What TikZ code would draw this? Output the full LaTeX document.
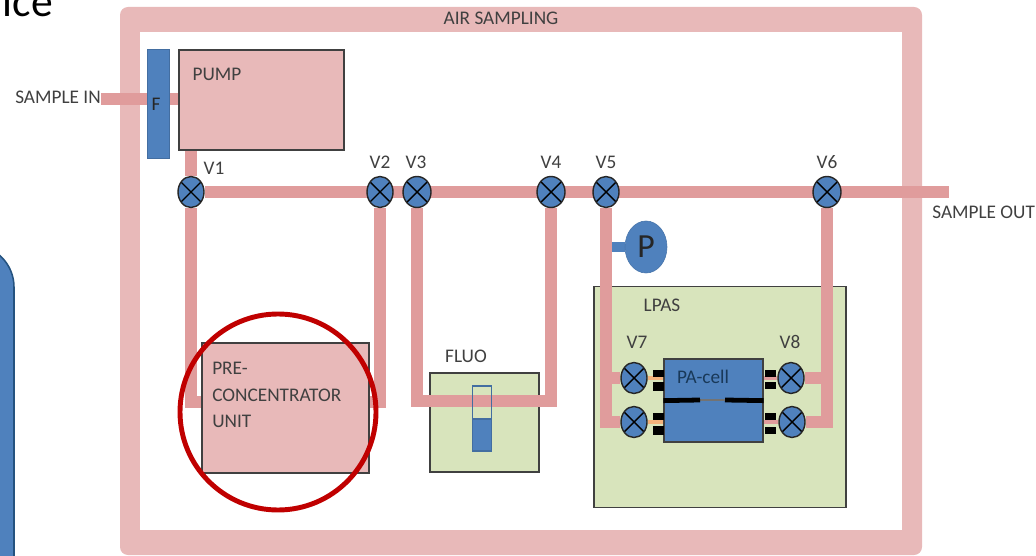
\documentclass[tikz,border=0pt]{standalone}
\usepackage{fontspec}
\setmainfont{Carlito}
\usetikzlibrary{arrows.meta,positioning,backgrounds,shapes.geometric}
\definecolor{pinkfill}{HTML}{E8B9B9}
\definecolor{pipecol}{HTML}{E09C9C}
\definecolor{greenfill}{HTML}{D8E4BC}
\definecolor{bluefill}{HTML}{4F81BD}
\definecolor{blueedge}{HTML}{24527F}
\definecolor{textcol}{HTML}{404040}
\definecolor{ringcol}{HTML}{C00000}
\definecolor{feedcol}{HTML}{F3B27C}
\newcommand{\pxu}{0.025cm}
\begin{document}
\begin{tikzpicture}[x = 0.025cm, y = -0.025cm,
        lab/.style={inner sep=0, text=textcol, font=\fontsize{13.7}{19}\selectfont},
        boxed/.style={draw=black!75, line width=0.9pt, inner sep=0, fill=#1},
        pipe/.style={draw=pipecol, line width=8.4pt},
        valve/.style={ellipse, draw=black!85, line width=1pt, fill=bluefill, inner sep=0,
            minimum width=26*\pxu, minimum height=31*\pxu,
            path picture={\draw [line width=1pt, black]
                ([shift={(-20,-20)}]path picture bounding box.center) -- ([shift={(20,20)}]path picture bounding box.center)
                ([shift={(20,-20)}]path picture bounding box.center) -- ([shift={(-20,20)}]path picture bounding box.center);}},
        tab/.style={fill=black, inner sep=0, minimum width=11*\pxu, minimum height=7*\pxu}]
    \useasboundingbox (0,0) rectangle (1036,556);
    \node [anchor=base east, inner sep=0, font=\fontsize{31}{31}\selectfont] (title) at (53,17) {ice};
    \node [draw=blueedge, line width=1.1pt, fill=bluefill, rounded corners=1.05cm, inner sep=0,
        minimum width=114*\pxu, minimum height=405*\pxu] (side) at (-43,447.5) {};

    \node (V1) at (191,192) [valve] {};
    \node (V2) at (380,192) [valve] {};
    \node (V3) at (417,192) [valve, minimum width=28*\pxu] {};
    \node (V4) at (551,192) [valve, minimum width=28*\pxu] {};
    \node (V5) at (606,192) [valve] {};
    \node (V6) at (827,192) [valve, minimum width=28*\pxu] {};
    \node (V7) at (634,378) [valve] {};
    \node (V9) at (634,422) [valve] {};
    \node (V8) at (791,378) [valve] {};
    \node (V10) at (792,422) [valve] {};

    \node (pump) at (261.5,100) [boxed=pinkfill, minimum width=165*\pxu, minimum height=100*\pxu] {};
    \node (filter) at (158,103.5) [fill=bluefill, draw=bluefill!85!black, line width=0.6pt, inner sep=0,
        minimum width=22*\pxu, minimum height=109*\pxu] {};
    \node (precon) at (285.5,408) [boxed=pinkfill, minimum width=167*\pxu, minimum height=130*\pxu] {};
    \node (press) at (646,247) [ellipse, fill=bluefill, draw=bluefill!90!black, inner sep=0,
        minimum width=42*\pxu, minimum height=52*\pxu, text=black!85,
        font=\fontsize{24}{24}\selectfont] {P};

    \node (sampin) at (101,97) [lab, anchor=east] {SAMPLE IN};
    \node (sampout) at (932,212) [lab, anchor=west] {SAMPLE OUT};
    \coordinate (outlet) at (949,192);
    \coordinate (preleft) at (202,402);
    \coordinate (preright) at (369,402);
    \coordinate (fluomid) at (480,401);

    \begin{scope}[on background layer]
        \node (frame) at (521,281) [fill=pinkfill, rounded corners=0.2cm, inner sep=0,
            minimum width=802*\pxu, minimum height=548*\pxu] {};
        \node (inner) at (521,281) [fill=white, inner sep=0,
            minimum width=762*\pxu, minimum height=498*\pxu] {};
        \node (lpas) at (720,397) [boxed=greenfill, minimum width=252*\pxu, minimum height=221*\pxu] {};
        \node (fluo) at (484.5,422.5) [boxed=greenfill, minimum width=109*\pxu, minimum height=99*\pxu] {};
        \draw [line width=7pt, draw=bluefill] (V5 |- press) -- (press);
        \draw [pipe] (sampin.east |- 0,99) -- (pump.west |- 0,99);
        \draw [pipe] (V1) -- (outlet);
        \draw [pipe] (pump.south -| V1) -- (V1);
        \draw [pipe] (V1) |- (preleft);
        \draw [pipe] (V2) |- (preright);
        \draw [pipe] (V3) |- (fluomid) -| (V4);
        \draw [pipe] (V5) |- (V9);
        \draw [pipe] (V5 |- V7) -- (V7);
        \draw [pipe] (V6) |- (V10);
        \draw [pipe] (V6 |- V8) -- (V8);
    \end{scope}

    \node (pacell) at (713.5,379.5) [boxed=bluefill, minimum width=99*\pxu, minimum height=41*\pxu] {};
    \node (pabase) at (713.5,421) [boxed=bluefill, minimum width=99*\pxu, minimum height=42*\pxu] {};
    \coordinate (gapleft) at (700,400);
    \coordinate (gapright) at (725,400);
    \draw [line width=1.6pt, black!55] (gapleft) -- (gapright);
    \draw [line width=3.4pt] (pacell.south west) -- (gapleft);
    \draw [line width=3.4pt] (gapright) -- (pacell.south east);

    \begin{scope}[on background layer]
        \draw [line width=3pt, feedcol] (V7) -- (pacell.west |- V7);
        \draw [line width=3pt, feedcol] (V9) -- (pabase.west |- V9);
        \draw [line width=3pt, pipecol] (V8) -- (pacell.east |- V8);
        \draw [line width=3pt, pipecol] (V10) -- (pabase.east |- V10);
    \end{scope}
    \node (t1) at (658,373.5) [tab] {};
    \node (t2) at (658,386) [tab, minimum height=9*\pxu] {};
    \node (t3) at (658,416.5) [tab] {};
    \node (t4) at (658,430) [tab, minimum height=9*\pxu] {};
    \node (t5) at (770,373.5) [tab] {};
    \node (t6) at (770,385.5) [tab] {};
    \node (t7) at (770,416.5) [tab] {};
    \node (t8) at (770,430) [tab] {};

    \node (tubetop) at (482,402.5) [draw=bluefill!85!black, line width=1.1pt, inner sep=0,
        minimum width=19*\pxu, minimum height=33*\pxu] {};
    \node (tubebase) at (482,435) [fill=bluefill, draw=bluefill!85!black, line width=1.1pt, inner sep=0,
        minimum width=19*\pxu, minimum height=32*\pxu] {};

    \node (ring) at (278,412) [circle, draw=ringcol, line width=3.5pt, inner sep=0, minimum size=196*\pxu] {};

    \node (airlab) at (501,18) [lab] {AIR SAMPLING};
    \node (pumplab) at (217,74) [lab] {PUMP};
    \node (flab) at (156,104) [lab, text=black!85] {F};
    \node (v1lab) at (214,168) [lab] {V1};
    \node (v2lab) at (380,162) [lab] {V2};
    \node (v3lab) at (416,162) [lab] {V3};
    \node (v4lab) at (551,162) [lab] {V4};
    \node (v5lab) at (606,162) [lab] {V5};
    \node (v6lab) at (827,162) [lab] {V6};
    \node (v7lab) at (637,342) [lab] {V7};
    \node (v8lab) at (790,342) [lab] {V8};
    \node (lpaslab) at (662,305) [lab] {LPAS};
    \node (fluolab) at (466,356) [lab] {FLUO};
    \node (pacelllab) at (703,377) [lab, text=blueedge!70!black] {PA-cell};
    \node (prelab) at (212,395) [lab, anchor=west, align=left] {PRE-\\CONCENTRATOR\\UNIT};
\end{tikzpicture}
\end{document}
